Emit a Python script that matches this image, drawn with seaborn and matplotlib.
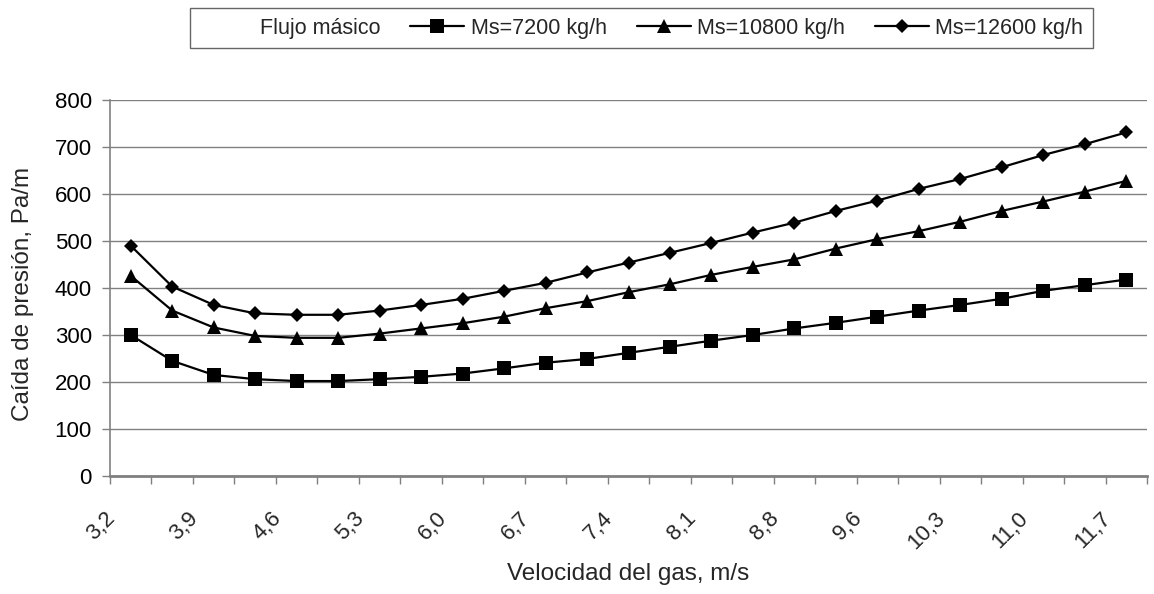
import numpy as np
import pandas as pd
import matplotlib
matplotlib.use("Agg")
import matplotlib.pyplot as plt
import matplotlib.transforms as mtransforms
from matplotlib.lines import Line2D
import seaborn as sns

# ---------------- data ----------------
vel_labels = ["3,2", "3,6", "3,9", "4,3", "4,6", "5,0", "5,3", "5,7", "6,0",
              "6,4", "6,7", "7,1", "7,4", "7,8", "8,1", "8,5", "8,8", "9,2",
              "9,6", "9,9", "10,3", "10,6", "11,0", "11,3", "11,7"]
ms7200 = [300, 245, 215, 206, 202, 202, 206, 211, 218, 229, 241, 249, 262,
          275, 288, 300, 314, 326, 339, 352, 364, 377, 394, 406, 418]
ms10800 = [426, 352, 316, 298, 294, 294, 303, 314, 325, 339, 357, 372, 391,
           408, 428, 445, 461, 484, 504, 521, 541, 564, 584, 605, 628]
ms12600 = [490, 403, 364, 346, 343, 343, 352, 364, 377, 394, 411, 433, 454,
           475, 496, 518, 539, 564, 586, 611, 632, 657, 683, 706, 731]
series_names = ["Ms=7200 kg/h", "Ms=10800 kg/h", "Ms=12600 kg/h"]
legend_title = "Flujo másico"
x_title = "Velocidad del gas, m/s"
y_title = "Caída de presión, Pa/m"
y_ticks = [0, 100, 200, 300, 400, 500, 600, 700, 800]

# ---------------- style ----------------
sns.set_style("white")
plt.rcParams["font.family"] = ["Liberation Sans", "DejaVu Sans"]

fig = plt.figure(figsize=(11.54, 5.94), dpi=100)
ax = fig.add_axes([110 / 1154, 1 - 476 / 594, (1147 - 110) / 1154, (476 - 100) / 594])

pos = np.arange(len(vel_labels))
frames = []
for name, vals in zip(series_names, [ms7200, ms10800, ms12600]):
    frames.append(pd.DataFrame({"pos": pos, "vel": vel_labels, "dp": vals, "serie": name}))
df = pd.concat(frames, ignore_index=True)

markers = {"Ms=7200 kg/h": ("s", 9.5), "Ms=10800 kg/h": ("^", 10.0), "Ms=12600 kg/h": ("D", 7.3)}
handles = []
for name in series_names:
    sub = df[df["serie"] == name]
    mk, ms = markers[name]
    sns.lineplot(data=sub, x="pos", y="dp", ax=ax, color="black", linewidth=1.6,
                 marker=mk, markersize=ms, markeredgewidth=0, sort=False,
                 legend=False, zorder=3)
    handles.append(Line2D([], [], color="black", linewidth=1.6, marker=mk,
                          markersize=ms, markeredgewidth=0))

# axes limits / grid
ax.set_xlim(-0.5, len(vel_labels) - 0.5)
ax.set_ylim(0, 800)
ax.set_yticks(y_ticks)
ax.set_yticklabels([str(v) for v in y_ticks])
ax.yaxis.grid(True, color="#808080", linewidth=1.0)
ax.xaxis.grid(False)
ax.set_axisbelow(True)

for s in ["top", "right"]:
    ax.spines[s].set_visible(False)
ax.spines["left"].set_color("#808080")
ax.spines["left"].set_linewidth(1.2)
ax.spines["bottom"].set_color("#808080")
ax.spines["bottom"].set_linewidth(2.0)

ax.tick_params(axis="y", which="major", length=6, width=1.0, color="#808080",
               labelsize=16, labelcolor="black", pad=7, left=True)

# x ticks: labels every other category, tick marks at category boundaries
ax.set_xticks(pos[::2])
ax.set_xticklabels(vel_labels[::2], rotation=45, ha="right", va="top")
ax.set_xticks(np.arange(-0.5, len(vel_labels), 1.0), minor=True)
ax.tick_params(axis="x", which="major", length=0, labelsize=16, pad=23)
ax.tick_params(axis="x", which="minor", length=6, width=1.0, color="#808080", bottom=True)
offset = mtransforms.ScaledTranslation(-11 / 100, 0, fig.dpi_scale_trans)
for lab in ax.get_xticklabels():
    lab.set_transform(lab.get_transform() + offset)

ax.set_xlabel(x_title, fontsize=17.5)
ax.xaxis.set_label_coords(0.5, (476 - 563) / 376)
ax.set_ylabel(y_title, fontsize=17.5)
ax.yaxis.set_label_coords((34 - 110) / 1037, 0.484)

# legend
dummy = Line2D([], [], linestyle="none", marker=None)
leg = fig.legend([dummy] + handles, [legend_title] + series_names, ncol=4,
                 loc="upper right", bbox_to_anchor=(1093 / 1154, 1 - 8 / 594),
                 fontsize=15.5, frameon=True, fancybox=False, edgecolor="#404040",
                 handlelength=2.5, handletextpad=0.3, columnspacing=1.4,
                 borderpad=0.45, borderaxespad=0)
leg.get_frame().set_linewidth(1.0)

fig.savefig("out.png", dpi=100, facecolor="white")
